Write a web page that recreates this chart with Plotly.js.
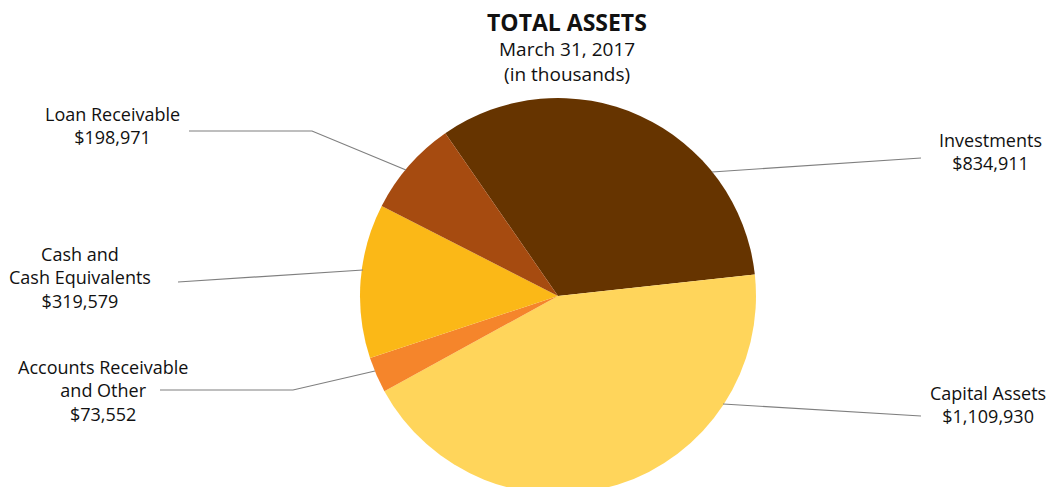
<!DOCTYPE html>
<html>
<head>
<meta charset="utf-8">
<script src="https://cdn.plot.ly/plotly-3.0.1.min.js"></script>
<style>
  html, body { margin: 0; padding: 0; overflow: hidden; background: #fff; }
  #chart { width: 1058px; height: 600px; }
</style>
</head>
<body>
<div id="chart"></div>
<script>
// ---- data ----
var categories = ["Investments", "Capital Assets", "Accounts Receivable<br>and Other", "Cash and<br>Cash Equivalents", "Loan Receivable"];
var values = [834911, 1109930, 73552, 319579, 198971];
var colors = ["#663400", "#FFD55B", "#F5852B", "#FBB817", "#A64B10"];
var titleText = "TOTAL ASSETS";
var subtitleLines = ["March 31, 2017", "(in thousands)"];

var W = 1058, H = 600;
function px(x) { return x / W; }
function py(y) { return 1 - y / H; }
function fmt(v) { return "$" + v.toLocaleString("en-US"); }

var FONT = "Open Sans, Noto Sans, sans-serif";

// label placement (layout only)
var labelPos = [
  {x: 990, y: 151},
  {x: 988, y: 404},
  {x: 103, y: 390},
  {x: 80,  y: 277},
  {x: 112, y: 125}
];
// leader line paths (layout only)
var leaders = [
  [[712, 172], [921, 158]],
  [[723, 404], [921, 416]],
  [[375, 371], [293, 390], [160, 390]],
  [[363, 270], [178, 282]],
  [[406, 170], [312, 131], [189, 131]]
];

var annotations = categories.map(function (c, i) {
  return {
    xref: "paper", yref: "paper",
    x: px(labelPos[i].x), y: py(labelPos[i].y),
    xanchor: "center", yanchor: "middle",
    text: c + "<br>" + fmt(values[i]),
    showarrow: false, align: "center",
    font: {family: FONT, size: 18, color: "#111"}
  };
});
annotations.push({
  xref: "paper", yref: "paper", x: px(567), y: py(22),
  xanchor: "center", yanchor: "middle",
  text: "<b>" + titleText + "</b>", showarrow: false,
  font: {family: FONT, size: 23, color: "#111"}
});
annotations.push({
  xref: "paper", yref: "paper", x: px(567), y: py(61),
  xanchor: "center", yanchor: "middle",
  text: subtitleLines.join("<br>"), showarrow: false, align: "center",
  font: {family: FONT, size: 19, color: "#111"}
});

var shapes = leaders.map(function (pts) {
  var d = pts.map(function (p, k) {
    return (k === 0 ? "M " : " L ") + px(p[0]) + "," + py(p[1]);
  }).join("");
  return {type: "path", xref: "paper", yref: "paper", path: d,
          line: {color: "#7f7f7f", width: 1.2}};
});

var trace = {
  type: "pie",
  labels: categories,
  values: values,
  sort: false,
  direction: "clockwise",
  rotation: -34.7,
  marker: {colors: colors, line: {width: 0}},
  textinfo: "none",
  hoverinfo: "label+value",
  domain: {x: [px(360), px(756)], y: [py(494), py(98)]}
};

var layout = {
  width: W, height: H,
  margin: {l: 0, r: 0, t: 0, b: 0},
  showlegend: false,
  paper_bgcolor: "#fff",
  annotations: annotations,
  shapes: shapes
};

Plotly.newPlot("chart", [trace], layout, {displayModeBar: false, staticPlot: true});
</script>
</body>
</html>
